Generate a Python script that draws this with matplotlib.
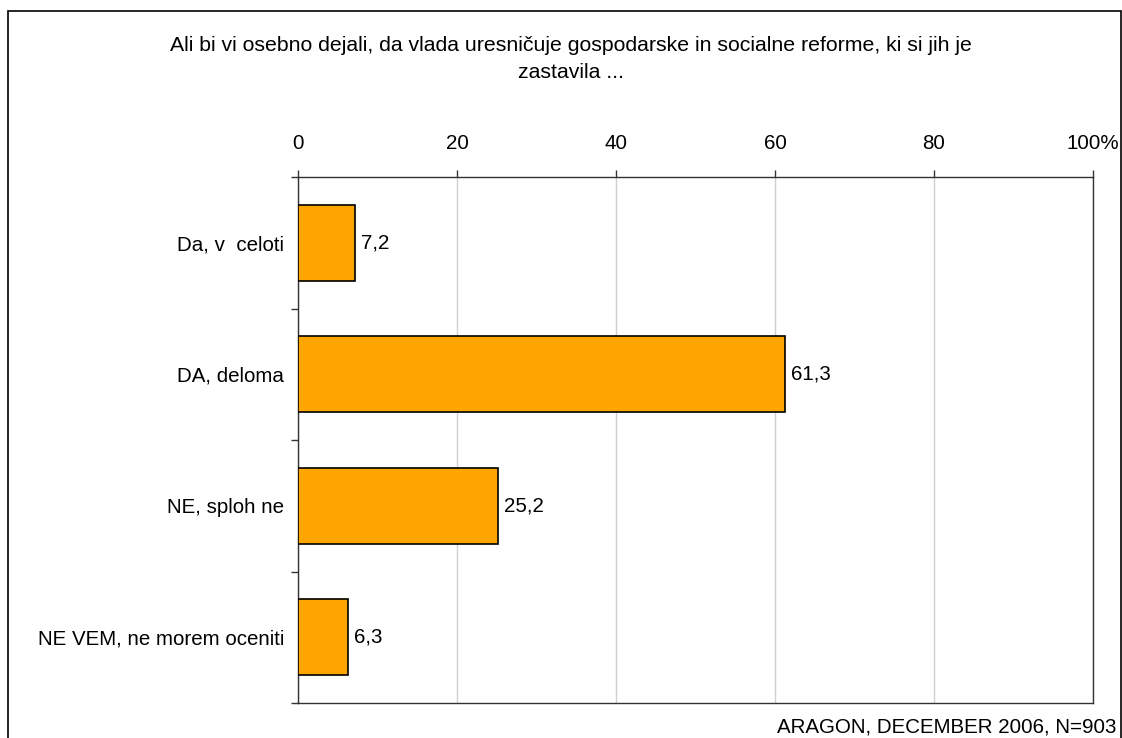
import matplotlib.pyplot as plt
from matplotlib.patches import Rectangle

categories = ["Da, v  celoti", "DA, deloma", "NE, sploh ne", "NE VEM, ne morem oceniti"]
values = [7.2, 61.3, 25.2, 6.3]
xticks = [0, 20, 40, 60, 80, 100]
xticklabels = ["0", "20", "40", "60", "80", "100%"]

title = ("Ali bi vi osebno dejali, da vlada uresničuje gospodarske in socialne reforme, ki si jih je\n"
         "zastavila ...")
source = "ARAGON, DECEMBER 2006, N=903"

plt.rcParams['font.family'] = ['Liberation Sans', 'DejaVu Sans']
FS = 14.8

W, H = 1122, 738
fig = plt.figure(figsize=(W / 100, H / 100), dpi=100)
# plot area in pixels: x 298..1093, y 177..703
ax = fig.add_axes([298 / W, 1 - 703 / H, (1093 - 298) / W, (703 - 177) / H])

# outer border of the chart
fig.patches.append(Rectangle((8 / W, -0.05), (1121 - 8) / W, 1.05 - 11 / H,
                             transform=fig.transFigure, fill=False,
                             edgecolor="black", linewidth=1.2))

y = list(range(len(categories)))
ax.barh(y, values, height=0.58, color="#FFA500", edgecolor="black", linewidth=1.2, zorder=3)
for yi, v in zip(y, values):
    ax.text(v + 0.7, yi, f"{v:.1f}".replace(".", ","), va="center", ha="left", fontsize=FS)

ax.set_xlim(0, 100)
ax.set_ylim(len(categories) - 0.5, -0.5)
ax.xaxis.tick_top()
ax.set_xticks(xticks)
ax.set_xticklabels(xticklabels, fontsize=FS)
ax.tick_params(axis="x", length=5, width=1, pad=12, color="#333333")

ax.set_yticks(y)
ax.set_yticklabels(categories, fontsize=FS)
ax.tick_params(axis="y", length=0, pad=10)
ax.set_yticks([i - 0.5 for i in range(len(categories) + 1)], minor=True)
ax.tick_params(axis="y", which="minor", length=5, width=1, color="#333333")

ax.grid(axis="x", color="#d0d0d0", linewidth=1, zorder=0)
for s in ax.spines.values():
    s.set_color("#333333")
    s.set_linewidth(1)

fig.text(571 / W, 1 - 59 / H, title, ha="center", va="center", fontsize=15.3, linespacing=1.55)
fig.text(1116 / W, 1 - 727 / H, source, ha="right", va="center", fontsize=FS)

fig.savefig("out.png", dpi=100)
